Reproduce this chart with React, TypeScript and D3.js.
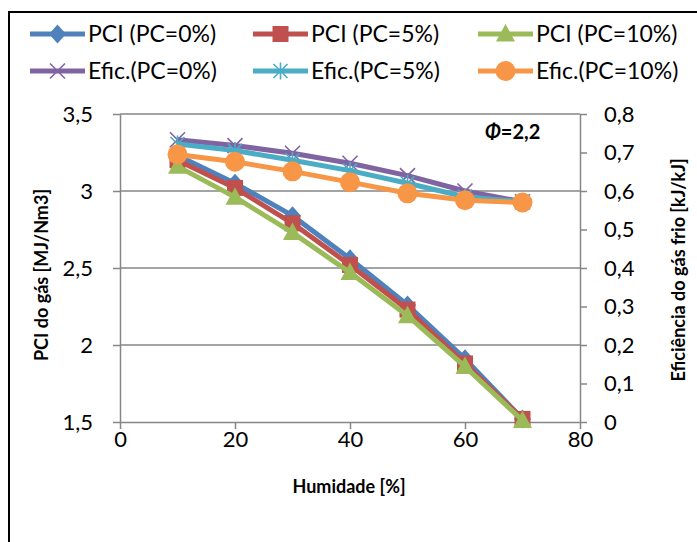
import * as d3 from 'd3'
import { useEffect, useRef } from 'react'

const humidade = [10, 20, 30, 40, 50, 60, 70]
const pci0 = [3.23, 3.05, 2.84, 2.56, 2.26, 1.91, 1.52]
const pci5 = [3.2, 3.02, 2.79, 2.52, 2.23, 1.88, 1.52]
const pci10 = [3.16, 2.96, 2.73, 2.47, 2.19, 1.86, 1.51]
const efic0 = [0.733, 0.718, 0.698, 0.672, 0.64, 0.6, 0.572]
const efic5 = [0.722, 0.705, 0.68, 0.653, 0.62, 0.585, 0.572]
const efic10 = [0.695, 0.676, 0.651, 0.623, 0.594, 0.576, 0.57]

const xTicks = [0, 20, 40, 60, 80]
const leftTicks = [1.5, 2, 2.5, 3, 3.5]
const rightTicks = [0, 0.1, 0.2, 0.3, 0.4, 0.5, 0.6, 0.7, 0.8]

const W = 697
const H = 542
const FONT = 'Lato, Calibri, sans-serif'
const GRID = '#868686'

type Marker = 'diamond' | 'square' | 'triangle' | 'x' | 'star' | 'circle'

const series: { name: string; values: number[]; axis: 'L' | 'R'; color: string; marker: Marker }[] = [
  { name: 'PCI (PC=0%)', values: pci0, axis: 'L', color: '#4F81BD', marker: 'diamond' },
  { name: 'PCI (PC=5%)', values: pci5, axis: 'L', color: '#C0504D', marker: 'square' },
  { name: 'PCI (PC=10%)', values: pci10, axis: 'L', color: '#9BBB59', marker: 'triangle' },
  { name: 'Efic.(PC=0%)', values: efic0, axis: 'R', color: '#8064A2', marker: 'x' },
  { name: 'Efic.(PC=5%)', values: efic5, axis: 'R', color: '#4BACC6', marker: 'star' },
  { name: 'Efic.(PC=10%)', values: efic10, axis: 'R', color: '#F79646', marker: 'circle' },
]

const drawMarker = (g: any, m: Marker, color: string) => {
  if (m === 'circle') {
    g.append('circle').attr('r', 10).attr('fill', color)
    return
  }
  const paths: Record<string, string> = {
    diamond: 'M0,-9.5L8.5,0L0,9.5L-8.5,0Z',
    square: 'M-8,-8H8V8H-8Z',
    triangle: 'M0,-10L9.5,7.5L-9.5,7.5Z',
    x: 'M-7.5,-7.5L7.5,7.5M7.5,-7.5L-7.5,7.5',
    star: 'M-7,-7L7,7M7,-7L-7,7M0,-8.5V8.5',
  }
  const thin = m === 'x' || m === 'star'
  g.append('path')
    .attr('d', paths[m])
    .attr('fill', thin ? 'none' : color)
    .attr('stroke', color)
    .attr('stroke-width', thin ? 1.6 : 0)
}

const App = () => {
  const svgRef = useRef<SVGSVGElement>(null)

  useEffect(() => {
    const svg = d3.select(svgRef.current)
    svg.selectAll('*').remove()

    const x = d3.scaleLinear().domain([0, 80]).range([120, 580])
    const yL = d3.scaleLinear().domain([1.5, 3.5]).range([422, 114])
    const yR = d3.scaleLinear().domain([0, 0.8]).range([422, 114])
    const comma = (v: number) => d3.format('.1~f')(v).replace('.', ',')

    // frame
    svg.append('rect').attr('x', 9).attr('y', 12).attr('width', 720).attr('height', 560)
      .attr('fill', 'white').attr('stroke', 'black').attr('stroke-width', 2)

    // gridlines
    svg.append('g').selectAll('line').data(leftTicks.slice(1)).join('line')
      .attr('x1', 120).attr('x2', 580)
      .attr('y1', (d) => yL(d)).attr('y2', (d) => yL(d))
      .attr('stroke', GRID).attr('stroke-width', 1.5)

    const styleAxis = (g: any) => {
      g.select('.domain').attr('stroke', GRID).attr('stroke-width', 1.5)
      g.selectAll('.tick line').attr('stroke', GRID).attr('stroke-width', 1.5)
      g.selectAll('text').attr('fill', 'black').style('font-family', FONT).style('font-size', '22px')
    }

    const gx = svg.append('g').attr('transform', 'translate(0,422)')
      .call(d3.axisBottom(x).tickValues(xTicks).tickSizeInner(7).tickSizeOuter(0).tickPadding(2))
    styleAxis(gx)

    const gl = svg.append('g').attr('transform', 'translate(120,0)')
      .call(d3.axisLeft(yL).tickValues(leftTicks).tickFormat(comma).tickSizeInner(7).tickSizeOuter(0).tickPadding(20))
    styleAxis(gl)

    const gr = svg.append('g').attr('transform', 'translate(580,0)')
      .call(d3.axisRight(yR).tickValues(rightTicks).tickFormat(comma).tickSizeInner(7).tickSizeOuter(0).tickPadding(17))
    styleAxis(gr)

    // series
    series.forEach((s) => {
      const y = s.axis === 'L' ? yL : yR
      const line = d3.line<number>().x((d, i) => x(humidade[i])).y((d) => y(d))
      svg.append('path').attr('d', line(s.values))
        .attr('fill', 'none').attr('stroke', s.color).attr('stroke-width', 5)
        .attr('stroke-linejoin', 'round')
      svg.append('g').selectAll('g').data(s.values).join('g')
        .attr('transform', (d, i) => `translate(${x(humidade[i])},${y(d)})`)
        .each(function () { drawMarker(d3.select(this), s.marker, s.color) })
    })

    // legend
    const colX = [30, 253, 478]
    const rowY = [34, 71]
    series.forEach((s, i) => {
      const lx = colX[i % 3]
      const ly = rowY[Math.floor(i / 3)]
      const g = svg.append('g')
      g.append('line').attr('x1', lx).attr('x2', lx + 55).attr('y1', ly).attr('y2', ly)
        .attr('stroke', s.color).attr('stroke-width', 5)
      drawMarker(g.append('g').attr('transform', `translate(${lx + 27.5},${ly})`), s.marker, s.color)
      g.append('text').attr('x', lx + 58).attr('y', ly).attr('dy', '0.35em')
        .style('font-family', FONT).style('font-size', '23px').text(s.name)
    })

    // titles
    const bold = (t: any) => t.style('font-family', FONT).style('font-size', '18px').style('font-weight', 'bold')
    bold(svg.append('text').attr('x', 349).attr('y', 487).attr('dy', '0.35em')
      .attr('text-anchor', 'middle').text('Humidade [%]'))
    bold(svg.append('text').attr('transform', 'translate(42,275) rotate(-90)').attr('dy', '0.35em')
      .attr('text-anchor', 'middle').text('PCI do gás [MJ/Nm3]'))
    bold(svg.append('text').attr('transform', 'translate(679,270) rotate(-90)').attr('dy', '0.35em')
      .attr('text-anchor', 'middle').text('Eficiência do gás frio [kJ/kJ]'))

    const phi = bold(svg.append('text').attr('x', 485).attr('y', 132).attr('dy', '0.35em'))
      .style('font-size', '20px')
    phi.append('tspan').style('font-style', 'italic').text('Φ')
    phi.append('tspan').text('=2,2')
  }, [])

  return (
    <svg ref={svgRef} width={W} height={H} style={{ position: 'absolute', left: 0, top: 0, background: 'white' }}></svg>
  )
}

export default App
